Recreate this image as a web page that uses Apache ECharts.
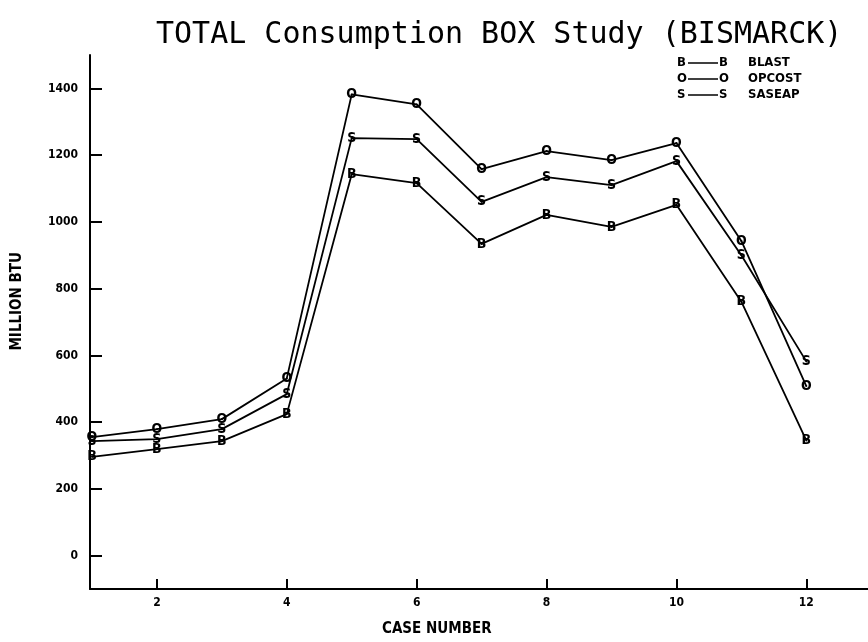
<!DOCTYPE html>
<html>
<head>
<meta charset="utf-8">
<script src="https://cdn.jsdelivr.net/npm/echarts@6/dist/echarts.min.js"></script>
<style>
    html, body { margin: 0; padding: 0; background: #fff; }
</style>
</head>
<body>
<div style="width:868px;height:642px;" id="box_study"></div>
<script>
// case numbers on the x axis
const cases = [1, 2, 3, 4, 5, 6, 7, 8, 9, 10, 11, 12];
// million BTU per case
const blast  = [296, 319, 343, 424, 1143, 1116, 934, 1021, 985, 1051, 761, 345];
const opcost = [355, 379, 409, 531, 1382, 1352, 1158, 1212, 1185, 1236, 943, 508];
const saseap = [343, 349, 379, 484, 1251, 1248, 1060, 1134, 1110, 1182, 900, 582];
const yTicks = [0, 200, 400, 600, 800, 1000, 1200, 1400];
const xTicks = [2, 4, 6, 8, 10, 12];
// legend rows: letter, name
const legendLetters = ['B', 'O', 'S'];
const legendNames = ['BLAST', 'OPCOST', 'SASEAP'];

const labelFont = 'DejaVu Sans Condensed';

function makeSeries (name, letter, values) {
    return {
        name: name,
        type: 'line',
        data: cases.map(function (c, i) { return [c, values[i]]; }),
        symbol: 'circle',
        symbolSize: 2,
        itemStyle: { color: '#000' },
        lineStyle: { color: '#000', width: 1.8 },
        label: {
            show: true,
            position: 'inside',
            formatter: letter,
            color: '#000',
            fontFamily: labelFont,
            fontWeight: 'bold',
            fontSize: 14
        },
        emphasis: { disabled: true },
        animation: false
    };
}

// hand drawn legend, like the plotter output
let legend = [];
legendLetters.forEach(function (l, i) {
    let cy = 63 + i * 16;
    let font = 'bold 13px "DejaVu Sans Condensed"';
    legend.push({ type: 'text', left: 677, top: cy - 7, style: { text: l, font: font, fill: '#000' } });
    legend.push({ type: 'line', shape: { x1: 688, y1: cy, x2: 718, y2: cy }, style: { stroke: '#000', lineWidth: 1.5 } });
    legend.push({ type: 'text', left: 719, top: cy - 7, style: { text: l, font: font, fill: '#000' } });
    legend.push({ type: 'text', left: 748, top: cy - 7, style: { text: legendNames[i], font: font, fill: '#000' } });
});

const option = {
    backgroundColor: '#fff',
    title: {
        text: 'TOTAL Consumption BOX Study (BISMARCK)',
        left: 151,
        top: 15,
        textStyle: {
            fontFamily: 'DejaVu Sans Mono',
            fontWeight: 'normal',
            fontSize: 30,
            color: '#000'
        }
    },
    grid: { left: 90, right: 0, top: 55, bottom: 53 },
    xAxis: {
        type: 'value',
        min: 0.97,
        max: 12.95,
        splitLine: { show: false },
        axisLine: { onZero: false, lineStyle: { color: '#000', width: 2 } },
        axisTick: { inside: true, length: 10, lineStyle: { color: '#000', width: 2 }, customValues: xTicks },
        axisLabel: {
            customValues: xTicks,
            color: '#000',
            fontFamily: labelFont,
            fontWeight: 'bold',
            fontSize: 12,
            margin: 8
        }
    },
    yAxis: {
        type: 'value',
        min: -100,
        max: 1500,
        splitLine: { show: false },
        axisLine: { show: true, onZero: false, lineStyle: { color: '#000', width: 2 } },
        axisTick: { show: true, inside: true, length: 12, lineStyle: { color: '#000', width: 2 }, customValues: yTicks },
        axisLabel: {
            customValues: yTicks,
            formatter: function (v) { return String(v); },
            color: '#000',
            fontFamily: labelFont,
            fontWeight: 'bold',
            fontSize: 12,
            margin: 12
        }
    },
    graphic: [
        { type: 'text', left: 10, top: 252, rotation: Math.PI / 2,
          style: { text: 'MILLION BTU', font: 'bold 15px "DejaVu Sans Condensed"', fill: '#000' } },
        { type: 'text', left: 382, top: 622,
          style: { text: 'CASE NUMBER', font: 'bold 15px "DejaVu Sans Condensed"', fill: '#000' } }
    ].concat(legend),
    series: [
        makeSeries('BLAST', 'B', blast),
        makeSeries('OPCOST', 'O', opcost),
        makeSeries('SASEAP', 'S', saseap)
    ]
};

let chart = echarts.init(document.getElementById('box_study'));
chart.setOption(option);
window.addEventListener('resize', function () {
    chart.resize();
});
</script>
</body>
</html>
